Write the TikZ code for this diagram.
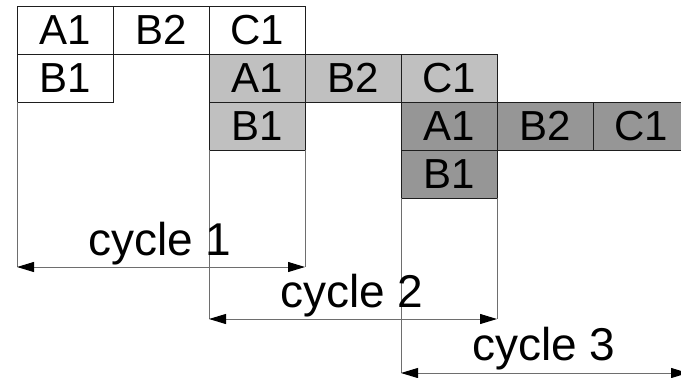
\documentclass[tikz,border=0pt]{standalone}
\usepackage{fontspec}
\setmainfont{Liberation Sans}
\usetikzlibrary{arrows.meta}
\definecolor{lightfill}{RGB}{192,192,192}
\definecolor{darkfill}{RGB}{150,150,150}
\definecolor{edge}{RGB}{30,30,30}
\definecolor{dimline}{RGB}{110,110,110}
\begin{document}
\begin{tikzpicture}[x=0.5pt,y=-0.5pt,
  cell/.style={draw=edge, line width=0.5pt, minimum width=48pt, minimum height=24pt,
    inner sep=0pt, outer sep=0pt, anchor=north west, font=\fontsize{21}{21}\selectfont},
  stage1/.style={cell, fill=white},
  stage2/.style={cell, fill=lightfill},
  stage3/.style={cell, fill=darkfill},
  ext/.style={draw=dimline, line width=0.5pt},
  tip/.style={},
  dimarrow/.style={draw=dimline, line width=0.5pt,
    arrows={Triangle[length=8.5pt,width=5pt,color=black]-Triangle[length=8.5pt,width=5pt,color=black]}},
  cyclelabel/.style={anchor=base, inner sep=0pt, font=\fontsize{23}{23}\selectfont}]
\useasboundingbox (0,0) rectangle (681,377);
\clip (0,0) rectangle (681,377);

% first pass
\node[stage1] (wA1) at (17,6)  {A1};
\node[stage1] (wB2) at (113,6) {B2};
\node[stage1] (wC1) at (209,6) {C1};
\node[stage1] (wB1) at (17,54) {B1};

% second pass
\node[stage2] (lA1) at (209,54)  {A1};
\node[stage2] (lB2) at (305,54)  {B2};
\node[stage2] (lC1) at (401,54)  {C1};
\node[stage2] (lB1) at (209,102) {B1};

% third pass
\node[stage3] (dA1) at (401,102) {A1};
\node[stage3] (dB2) at (497,102) {B2};
\node[stage3] (dC1) at (593,102) {C1};
\node[stage3] (dB1) at (401,150) {B1};

% cycle dimension ends
\coordinate (d1l) at (wB1.south west |- 0,267);
\coordinate (d1r) at (lB1.south east |- 0,267);
\coordinate (d2l) at (lB1.south west |- 0,319);
\coordinate (d2r) at (dB1.south east |- 0,319);
\coordinate (d3l) at (dB1.south west |- 0,373);
\coordinate (d3r) at (688,373);

% extension lines
\draw[ext] (wB1.south west) -- (d1l);
\draw[ext] (lB1.south east) -- (d1r);
\draw[ext] (lB1.south west) -- (d2l);
\draw[ext] (dB1.south east) -- (d2r);
\draw[ext] (dB1.south west) -- (d3l);

% dimension arrows
\draw[dimarrow] (d1l) -- (d1r);
\draw[dimarrow] (d2l) -- (d2r);
\draw[dimarrow] (d3l) -- (d3r);

% labels
\node[cyclelabel] (cyc1) at (160,255) {cycle 1};
\node[cyclelabel] (cyc2) at (352,307) {cycle 2};
\node[cyclelabel] (cyc3) at (544,360) {cycle 3};
\end{tikzpicture}
\end{document}
